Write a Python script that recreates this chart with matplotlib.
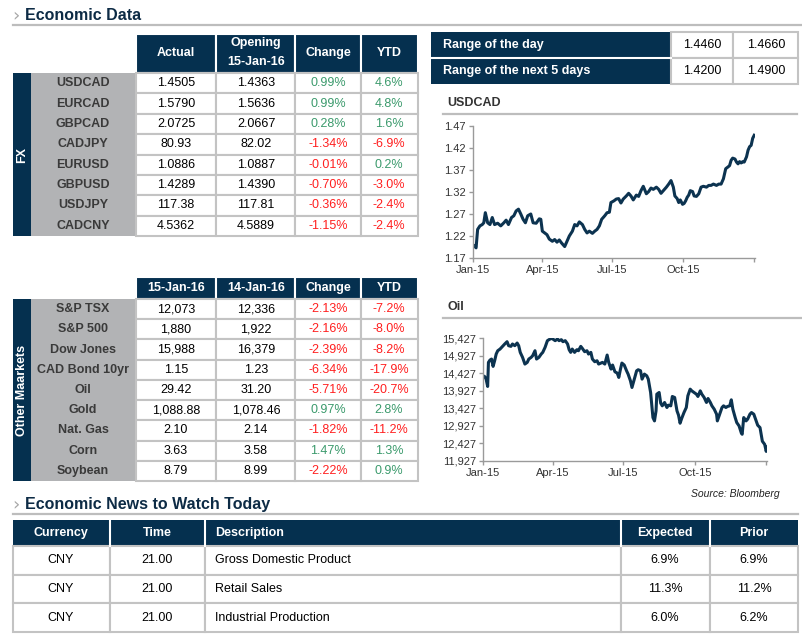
import matplotlib
matplotlib.use("Agg")
import matplotlib.pyplot as plt
from matplotlib.patches import Rectangle
from matplotlib.ticker import FuncFormatter

plt.rcParams["font.family"] = ["Liberation Sans", "DejaVu Sans"]

# ---- table data ----
fx_pairs = ["USDCAD", "EURCAD", "GBPCAD", "CADJPY", "EURUSD", "GBPUSD", "USDJPY", "CADCNY"]
fx_actual = ["1.4505", "1.5790", "2.0725", "80.93", "1.0886", "1.4289", "117.38", "4.5362"]
fx_opening = ["1.4363", "1.5636", "2.0667", "82.02", "1.0887", "1.4390", "117.81", "4.5889"]
fx_change = [0.99, 0.99, 0.28, -1.34, -0.01, -0.70, -0.36, -1.15]
fx_ytd = [4.6, 4.8, 1.6, -6.9, 0.2, -3.0, -2.4, -2.4]

range_labels = ["Range of the day", "Range of the next 5 days"]
range_low = ["1.4460", "1.4200"]
range_high = ["1.4660", "1.4900"]

mkt_names = ["S&P TSX", "S&P 500", "Dow Jones", "CAD Bond 10yr", "Oil", "Gold", "Nat. Gas", "Corn", "Soybean"]
mkt_today = ["12,073", "1,880", "15,988", "1.15", "29.42", "1,088.88", "2.10", "3.63", "8.79"]
mkt_prev = ["12,336", "1,922", "16,379", "1.23", "31.20", "1,078.46", "2.14", "3.58", "8.99"]
mkt_change = [-2.13, -2.16, -2.39, -6.34, -5.71, 0.97, -1.82, 1.47, -2.22]
mkt_ytd = [-7.2, -8.0, -8.2, -17.9, -20.7, 2.8, -11.2, 1.3, 0.9]

news_header = ["Currency", "Time", "Description", "Expected", "Prior"]
news_currency = ["CNY", "CNY", "CNY"]
news_time = ["21.00", "21.00", "21.00"]
news_desc = ["Gross Domestic Product", "Retail Sales", "Industrial Production"]
news_expected = ["6.9%", "11.3%", "6.0%"]
news_prior = ["6.9%", "11.2%", "6.2%"]

# ---- chart data (days since 1-Jan-15) ----
usdcad_days = [0, 2, 4, 6, 9, 12, 14, 16, 19, 22, 25, 28, 32, 36, 40, 43, 46, 50, 53, 56,
               59, 62, 65, 68, 71, 75, 78, 82, 86, 88, 90, 93, 96, 99, 103, 106, 109, 112, 115, 119,
               122, 125, 129, 132, 135, 138, 142, 145, 148, 151, 155, 158, 161, 164, 167, 171, 174, 177, 179, 183,
               186, 189, 192, 195, 199, 202, 205, 208, 212, 215, 218, 221, 225, 228, 231, 234, 238, 241, 244, 247,
               251, 254, 257, 260, 262, 265, 267, 269, 272, 274, 276, 278, 280, 282, 285, 287, 290, 293, 296, 299,
               303, 306, 309, 312, 316, 319, 322, 325, 328, 331, 333, 335, 337, 340, 342, 344, 346, 348, 350, 352,
               355, 357, 359, 361, 363, 365]
usdcad_vals = [1.200, 1.197, 1.193, 1.235, 1.243, 1.246, 1.250, 1.273, 1.250, 1.246, 1.262, 1.246, 1.249, 1.243, 1.250, 1.256, 1.246, 1.262, 1.266, 1.277,
               1.281, 1.270, 1.258, 1.250, 1.266, 1.270, 1.250, 1.249, 1.259, 1.258, 1.231, 1.227, 1.223, 1.213, 1.208, 1.212, 1.206, 1.211, 1.204, 1.196,
               1.208, 1.220, 1.231, 1.246, 1.243, 1.252, 1.246, 1.235, 1.227, 1.231, 1.226, 1.231, 1.235, 1.243, 1.258, 1.266, 1.273, 1.274, 1.296, 1.300,
               1.304, 1.305, 1.295, 1.304, 1.311, 1.317, 1.311, 1.302, 1.313, 1.310, 1.323, 1.333, 1.316, 1.321, 1.329, 1.326, 1.331, 1.326, 1.317, 1.323,
               1.331, 1.338, 1.346, 1.331, 1.311, 1.305, 1.296, 1.302, 1.292, 1.294, 1.300, 1.308, 1.313, 1.323, 1.321, 1.311, 1.310, 1.316, 1.331, 1.333,
               1.331, 1.335, 1.335, 1.338, 1.335, 1.338, 1.338, 1.350, 1.373, 1.377, 1.380, 1.392, 1.397, 1.395, 1.388, 1.384, 1.389, 1.386, 1.389, 1.388,
               1.400, 1.415, 1.423, 1.426, 1.442, 1.449]

oil_days = [0, 2, 4, 6, 7, 9, 11, 13, 15, 17, 19, 22, 26, 28, 31, 33, 36, 38, 41, 44,
            46, 48, 51, 54, 57, 59, 62, 64, 67, 69, 72, 75, 77, 80, 83, 85, 88, 90, 93, 96,
            98, 101, 103, 106, 109, 111, 113, 115, 118, 121, 123, 126, 128, 131, 134, 136, 139, 141, 144, 147,
            149, 152, 154, 157, 160, 162, 165, 167, 170, 173, 175, 177, 179, 182, 185, 187, 190, 192, 195, 198,
            200, 203, 205, 208, 211, 213, 216, 218, 219, 221, 223, 224, 227, 229, 231, 234, 237, 239, 242, 244,
            247, 250, 252, 254, 256, 259, 262, 264, 267, 269, 272, 275, 277, 280, 282, 285, 288, 290, 293, 295,
            298, 301, 302, 305, 308, 310, 313, 315, 318, 320, 322, 325, 327, 330, 333, 334, 336, 339, 341, 344,
            346, 349, 352, 354, 357, 360, 363, 365, 366]
oil_vals = [14352, 14333, 14257, 14048, 14733, 14799, 14828, 14619, 14780, 14970, 15065, 15113, 15208, 15256, 15322, 15208, 15189, 15256, 15208, 15284,
            15208, 15018, 14875, 14685, 14733, 14828, 14875, 14923, 15065, 14828, 14875, 14970, 15018, 15161, 15351, 15379, 15417, 15398, 15351, 15398,
            15351, 15379, 15322, 15351, 15256, 15094, 15018, 15113, 15018, 15094, 15065, 15189, 15132, 15037, 15065, 14970, 15018, 14828, 14752, 14780,
            14685, 14714, 14733, 14685, 14942, 14733, 14543, 14657, 14466, 14428, 14305, 14524, 14714, 14657, 14495, 14400, 14210, 14019, 14257, 14495,
            14524, 14495, 14257, 14400, 14352, 14257, 13877, 13401, 13163, 13068, 13354, 13829, 13877, 13573, 13497, 13592, 13449, 13516, 13497, 13763,
            13734, 13354, 13230, 13002, 13135, 13306, 13449, 13782, 13972, 13924, 13877, 13829, 13763, 13924, 13829, 13734, 13592, 13706, 13592, 13497,
            13401, 13259, 13068, 13259, 13449, 13497, 13449, 13478, 13497, 13668, 13401, 13163, 13021, 12926, 12716, 12688, 13163, 13068, 13116, 13259,
            13306, 13259, 13068, 12945, 12878, 12490, 12400, 12200, 12320]

quarter_ticks = [0, 90, 181, 273, 365]
quarter_labels = ["Jan-15", "Apr-15", "Jul-15", "Oct-15", ""]

NAVY = "#05304f"
GRAY_COL = "#b2b3b5"
BORDER = "#c3c3c3"
RULE = "#bdbdbd"
GREEN = "#3b9a6c"
RED = "#ff1f1f"
W, H = 802, 639

fig = plt.figure(figsize=(W / 100, H / 100), dpi=100)
ax = fig.add_axes([0, 0, 1, 1])
ax.set_xlim(0, W)
ax.set_ylim(H, 0)
ax.axis("off")


def box(x0, y0, x1, y1, fc, ec="none", lw=0):
    ax.add_patch(Rectangle((x0, y0), x1 - x0, y1 - y0, facecolor=fc, edgecolor=ec, linewidth=lw))


def put(x, y, s, ha="center", color="black", size=9, weight="normal", **kw):
    ax.text(x, y, s, ha=ha, va="center", color=color, fontsize=size, fontweight=weight, **kw)


def pct(v, dec):
    return f"{v:.{dec}f}%"


def section_title(y, text, x1):
    put(16, y + 1, "›", ha="center", color="#a8a8a8", size=13, family="DejaVu Sans")
    put(25, y, text, ha="left", color="#0d2b45", size=11.5, weight="bold")
    ax.plot([13, x1], [y + 10, y + 10], color=RULE, lw=1.6)


# ---- section titles ----
section_title(15, "Economic Data", W)
section_title(504, "Economic News to Watch Today", 798)

# ---- FX table ----
cols = [136, 216, 295, 361, 418]
hdr_top, hdr_bot = 34, 73
for i in range(4):
    box(cols[i], hdr_top, cols[i + 1], hdr_bot, NAVY, "white", 1.5)
put(176, 53, "Actual", color="white", weight="bold")
put(256, 43, "Opening", color="white", weight="bold")
put(256, 62, "15-Jan-16", color="white", weight="bold")
put(328, 53, "Change", color="white", weight="bold")
put(389, 53, "YTD", color="white", weight="bold")

row_h = (236 - 73) / len(fx_pairs)
box(13, 73, 31, 236, NAVY)
box(31, 73, 136, 236, GRAY_COL)
put(22, 155, "FX", color="white", weight="bold", rotation=90)
for r, name in enumerate(fx_pairs):
    y0 = 73 + r * row_h
    yc = y0 + row_h / 2
    for i in range(4):
        box(cols[i], y0, cols[i + 1], y0 + row_h, "white", BORDER, 1.5)
    put(83, yc, name, color="#3a3a3a", weight="bold")
    put(176, yc, fx_actual[r])
    put(256, yc, fx_opening[r])
    put(328, yc, pct(fx_change[r], 2), color=GREEN if fx_change[r] >= 0 else RED)
    put(389, yc, pct(fx_ytd[r], 1), color=GREEN if fx_ytd[r] >= 0 else RED)

# ---- range table ----
box(431, 32, 671, 84, NAVY)
ax.plot([431, 671], [58, 58], color="white", lw=1.5)
for r in range(2):
    y0 = 32 + r * 26
    box(671, y0, 733, y0 + 26, "white", BORDER, 1.5)
    box(733, y0, 798, y0 + 26, "white", BORDER, 1.5)
    put(443, y0 + 13, range_labels[r], ha="left", color="white", weight="bold")
    put(702, y0 + 13, range_low[r])
    put(766, y0 + 13, range_high[r])

# ---- other markets table ----
hdr_top, hdr_bot = 277, 299
for i in range(4):
    box(cols[i], hdr_top, cols[i + 1], hdr_bot, NAVY, "white", 1.5)
for xc, s in zip([176, 256, 328, 389], ["15-Jan-16", "14-Jan-16", "Change", "YTD"]):
    put(xc, 288, s, color="white", weight="bold")
row_h = (481 - 299) / len(mkt_names)
box(13, 299, 31, 481, NAVY)
box(31, 299, 136, 481, GRAY_COL)
put(22, 390, "Other Maarkets", color="white", weight="bold", rotation=90)
for r, name in enumerate(mkt_names):
    y0 = 299 + r * row_h
    yc = y0 + row_h / 2
    for i in range(4):
        box(cols[i], y0, cols[i + 1], y0 + row_h, "white", BORDER, 1.5)
    put(83, yc, name, color="#3a3a3a", weight="bold")
    put(176, yc, mkt_today[r])
    put(256, yc, mkt_prev[r])
    put(328, yc, pct(mkt_change[r], 2), color=GREEN if mkt_change[r] >= 0 else RED)
    put(389, yc, pct(mkt_ytd[r], 1), color=GREEN if mkt_ytd[r] >= 0 else RED)

# ---- news table ----
ncols = [13, 110, 205, 621, 710, 798]
box(ncols[0], 520, ncols[-1], 546, NAVY)
for xv in ncols[1:-1]:
    ax.plot([xv, xv], [520, 546], color="white", lw=1.5)
hx = [61, 157, 215, 665, 754]
for j, s in enumerate(news_header):
    put(hx[j], 533, s, ha="left" if j == 2 else "center", color="white", weight="bold")
rows = list(zip(news_currency, news_time, news_desc, news_expected, news_prior))
for r, vals in enumerate(rows):
    y0 = 546 + r * 28.7
    for i in range(5):
        box(ncols[i], y0, ncols[i + 1], y0 + 28.7, "white", BORDER, 1.5)
    for j, s in enumerate(vals):
        put(hx[j], y0 + 14.3, s, ha="left" if j == 2 else "center")

# ---- charts ----
def chart(left, right, top, bottom, title, title_y, rule_x1, days, vals, ylim, yticks, fmt):
    put(447, title_y, title, ha="left", color="#333333", size=9, weight="bold")
    ax.plot([443, rule_x1], [title_y + 11, title_y + 11], color=RULE, lw=1.6)
    cax = fig.add_axes([left / W, 1 - bottom / H, (right - left) / W, (bottom - top) / H])
    cax.plot(days, vals, color="#0c3350", lw=2.2, solid_joinstyle="round")
    cax.set_xlim(0, 366)
    cax.set_ylim(*ylim)
    cax.set_yticks(yticks)
    cax.yaxis.set_major_formatter(FuncFormatter(fmt))
    cax.set_xticks(quarter_ticks)
    cax.set_xticklabels(quarter_labels)
    for side in ["top", "right"]:
        cax.spines[side].set_visible(False)
    for side in ["left", "bottom"]:
        cax.spines[side].set_color("#9a9a9a")
        cax.spines[side].set_linewidth(1)
    cax.tick_params(axis="both", direction="out", length=3, width=1, color="#9a9a9a",
                    labelsize=8, labelcolor="#333333", pad=2)
    cax.patch.set_alpha(0)
    return cax


chart(473, 755, 126, 258, "USDCAD", 103, 797, usdcad_days, usdcad_vals,
      (1.17, 1.47), [1.17, 1.22, 1.27, 1.32, 1.37, 1.42, 1.47], lambda v, p: f"{v:.2f}")
chart(483, 767, 338, 461, "Oil", 307, W, oil_days, oil_vals,
      (11927, 15427), list(range(11927, 15428, 500)), lambda v, p: f"{int(round(v)):,}")

put(780, 494, "Source: Bloomberg", ha="right", color="#222222", size=7.5, style="italic")

fig.savefig("out.png", dpi=100)
